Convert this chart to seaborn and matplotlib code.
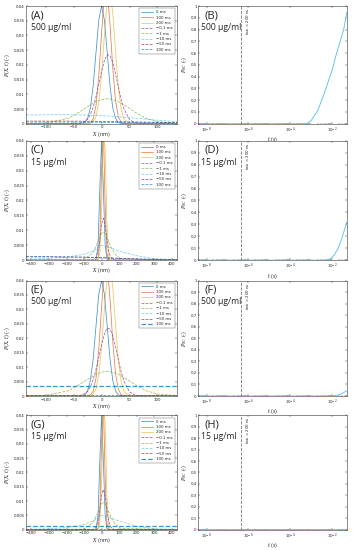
import numpy as np
import pandas as pd
import matplotlib
matplotlib.use("Agg")
import matplotlib.pyplot as plt
import seaborn as sns

# -----------------------------
# Data
# -----------------------------
LEGEND_LABELS = ["0 ms", "100 ms", "200 ms", "\u22120.1 ms", "\u22121 ms", "\u221210 ms", "\u221250 ms", "100 ms"]
PANEL_LETTERS = ["(A)", "(B)", "(C)", "(D)", "(E)", "(F)", "(G)", "(H)"]
CONC = ["500 \u00b5g/ml", "15 \u00b5g/ml", "500 \u00b5g/ml", "15 \u00b5g/ml"]

# panels A / E  (X in nm)
AE_X = [-135, -100, -60, -40, -30, -25, -20, -15, -10, -5, 0, 5, 10, 15, 20, 25, 30, 35, 40, 50, 60, 80, 100, 135]
AE_0MS = [0, 0, 0, 0, .0004, .0018, .0054, .0130, .0243, .0353, .0400, .0353, .0243, .0130, .0054, .0018, .0004, .0001, 0, 0, 0, 0, 0, 0]
AE_100MS = [0, 0, 0, 0, 0, .0001, .0004, .0017, .0062, .0163, .031, .0435, .0452, .034, .0189, .0077, .0023, .0005, .0001, 0, 0, 0, 0, 0]
AE_200MS = [0, 0, 0, 0, 0, 0, .0001, .0007, .0025, .0074, .0169, .030, .0415, .0448, .0376, .0246, .0125, .005, .0015, .0001, 0, 0, 0, 0]
AE_M01MS = [0, 0, 0, .0001, .0008, .0016, .0032, .0057, .0092, .0134, .0178, .0215, .0235, .0232, .0208, .017, .0125, .0084, .0051, .0014, .0003, 0, 0, 0]
AE_M1MS = [.0001, .0002, .0018, .0039, .0052, .0058, .0064, .007, .0075, .0079, .0082, .0084, .0085, .0084, .0082, .0079, .0075, .007, .0064, .0052, .0039, .0018, .0007, .0001]
AE_WIDE_X = [-135, -60, 0, 60, 100, 135]
A_M10MS = [.0030, .0031, .0028, .0019, .0012, .0007]
A_M50MS = [.0009, .0009, .0008, .0006, .0005, .0004]
A_M100MS = [.0006, .0006, .0005, .0004, .0004, .0003]
E_M10MS = [.0001, .0001, .0001, .0001, .0001, .0001]
E_M50MS = [.0002, .0002, .0002, .0002, .0002, .0002]
E_M100MS = [.0035, .0035, .0035, .0035, .0035, .0035]

# panels C / G  (X in nm)
CG_X = [-430, -100, -50, -40, -30, -20, -10, 0, 10, 20, 30, 40, 50, 60, 80, 110, 430]
CG_0MS = [0, 0, 0, 0, .0004, .0054, .0243, .0400, .0243, .0054, .0004, 0, 0, 0, 0, 0, 0]
CG_100MS = [0, 0, 0, 0, 0, .0004, .0062, .031, .0452, .0189, .0023, .0001, 0, 0, 0, 0, 0]
CG_200MS = [0, 0, 0, 0, 0, .0001, .0025, .0169, .0415, .0376, .0125, .0015, .0001, 0, 0, 0, 0]
CG_M01MS = [0, 0, .0001, .0004, .0012, .0032, .0070, .0120, .0140, .0120, .0070, .0032, .0012, .0004, 0, 0, 0]
CG_M1MS = [0, .0002, .0025, .0036, .0049, .0063, .0078, .0090, .0095, .0090, .0078, .0063, .0049, .0036, .0018, .0004, 0]
CG_WIDE_X = [-430, -300, -200, -100, -50, 0, 50, 100, 200, 300, 430]
C_M10MS = [.0003, .0006, .0010, .0020, .0030, .0050, .0042, .0030, .0015, .0005, .0001]
C_M50MS = [.0011, .0011, .0010, .0010, .0009, .0008, .0007, .0006, .0004, .0002, .0001]
C_M100MS = [.0013, .0012, .0011, .0010, .0009, .0008, .0007, .0006, .0004, .0003, .0002]
G_M10MS = [.0001, .0003, .0007, .0018, .0030, .0050, .0042, .0030, .0012, .0003, .0001]
G_M50MS = [.0003, .0003, .0003, .0003, .0003, .0003, .0003, .0003, .0003, .0003, .0003]
G_M100MS = [.0012, .0012, .0012, .0012, .0012, .0012, .0012, .0012, .0012, .0012, .0012]

# right panels: probability vs time (s)
B_T = [4e-9, 6e-4, 1e-3, 2e-3, 4e-3, 7e-3, 1e-2, 1.5e-2, 2.2e-2, 3.5e-2, 5e-2]
B_PSC = [0, 0, .03, .11, .25, .38, .46, .58, .68, .80, .95]
D_T = [4e-9, 5e-3, 8e-3, 1.2e-2, 1.8e-2, 2.6e-2, 3.6e-2, 5e-2]
D_PSC = [0, 0, .01, .04, .09, .16, .24, .32]
F_T = [4e-9, 8e-3, 1.5e-2, 2.5e-2, 3.5e-2, 5e-2]
F_PSC = [0, 0, .005, .015, .03, .045]
H_T = [4e-9, 5e-2]
H_PSC = [0, .001]
T_MIN = 4.5e-7

# MATLAB default line colours
COLORS = ["#0072BD", "#D95319", "#EDB120", "#7E2F8E", "#77AC30", "#4DBEEE", "#A2142F", "#0072BD"]
STYLES = ["-", "-", "-", "--", "--", "--", "--", "--"]

# -----------------------------
# Style
# -----------------------------
sns.set_style("ticks")
plt.rcParams["font.family"] = ["DejaVu Sans"]
plt.rcParams["mathtext.fontset"] = "dejavuserif"
plt.rcParams["axes.linewidth"] = 0.4
plt.rcParams["xtick.direction"] = "in"
plt.rcParams["ytick.direction"] = "in"
plt.rcParams["xtick.major.size"] = 1.5
plt.rcParams["ytick.major.size"] = 1.5
plt.rcParams["xtick.minor.size"] = 0.8
plt.rcParams["xtick.major.width"] = 0.3
plt.rcParams["ytick.major.width"] = 0.3
plt.rcParams["xtick.minor.width"] = 0.3
plt.rcParams["xtick.labelsize"] = 2.8
plt.rcParams["ytick.labelsize"] = 2.8
plt.rcParams["axes.edgecolor"] = "#333333"

fig = plt.figure(figsize=(3.54, 5.5), dpi=100)

rows = [(0.775, 0.214), (0.527, 0.217), (0.280, 0.210), (0.037, 0.208)]
left_x, left_w = 0.074, 0.426
right_x, right_w = 0.560, 0.420

left_sets = [
    (AE_X, AE_WIDE_X, [AE_0MS, AE_100MS, AE_200MS, AE_M01MS, AE_M1MS], [A_M10MS, A_M50MS, A_M100MS], 135,
     [-100, -50, 0, 50, 100]),
    (CG_X, CG_WIDE_X, [CG_0MS, CG_100MS, CG_200MS, CG_M01MS, CG_M1MS], [C_M10MS, C_M50MS, C_M100MS], 430,
     [-400, -300, -200, -100, 0, 100, 200, 300, 400]),
    (AE_X, AE_WIDE_X, [AE_0MS, AE_100MS, AE_200MS, AE_M01MS, AE_M1MS], [E_M10MS, E_M50MS, E_M100MS], 135,
     [-100, -50, 0, 50, 100]),
    (CG_X, CG_WIDE_X, [CG_0MS, CG_100MS, CG_200MS, CG_M01MS, CG_M1MS], [G_M10MS, G_M50MS, G_M100MS], 430,
     [-400, -300, -200, -100, 0, 100, 200, 300, 400]),
]
right_sets = [(B_T, B_PSC), (D_T, D_PSC), (F_T, F_PSC), (H_T, H_PSC)]

ytick_vals = [0, 0.005, 0.01, 0.015, 0.02, 0.025, 0.03, 0.035, 0.04]
ytick_labs = ["0", "0.005", "0.01", "0.015", "0.02", "0.025", "0.03", "0.035", "0.04"]


def tidy(ax):
    ax.tick_params(top=True, right=True, pad=1.2)
    for s in ax.spines.values():
        s.set_visible(True)


for i, (y0, h) in enumerate(rows):
    # ---- left panel: distributions ----
    xs, xw, narrow, wide, lim, xt = left_sets[i]
    ax = fig.add_axes([left_x, y0, left_w, h])
    ys = narrow + wide
    for k, yv in enumerate(ys):
        xv = xs if k < 5 else xw
        df = pd.DataFrame({"x": xv, "y": yv})
        lw = 0.9 if (k == 7 and i in (2, 3)) else 0.55
        sns.lineplot(data=df, x="x", y="y", ax=ax, color=COLORS[k], linestyle=STYLES[k],
                     linewidth=lw, label=LEGEND_LABELS[k], sort=False, estimator=None, alpha=0.75)
    ax.set_xlim(-lim, lim)
    ax.set_ylim(0, 0.04)
    ax.set_xticks(xt)
    ax.set_yticks(ytick_vals)
    ax.set_yticklabels(ytick_labs)
    ax.set_xlabel(r"$X$ (nm)", fontsize=3.5, labelpad=0.3)
    ax.set_ylabel(r"$P(X,t)$ (-)", fontsize=3.5, labelpad=0.8)
    tidy(ax)
    leg = ax.legend(loc="upper right", fontsize=2.8, handlelength=3.2, labelspacing=0.35,
                    borderaxespad=0.6, frameon=True, fancybox=False, borderpad=0.5)
    leg.get_frame().set_edgecolor("#333333")
    leg.get_frame().set_linewidth(0.3)
    ax.text(0.03, 0.965, PANEL_LETTERS[2 * i], transform=ax.transAxes, fontsize=8,
            family="Open Sans", va="top", ha="left")
    ax.text(0.03, 0.815, CONC[i], transform=ax.transAxes, fontsize=6.2,
            family="Open Sans", va="center", ha="left")

    # ---- right panel: probability vs time ----
    tv, pv = right_sets[i]
    ax2 = fig.add_axes([right_x, y0, right_w, h])
    df2 = pd.DataFrame({"t": tv, "p": pv})
    sns.lineplot(data=df2, x="t", y="p", ax=ax2, color="#4DBEEE", linewidth=0.6,
                 sort=False, estimator=None)
    ax2.set_xscale("log")
    ax2.set_xlim(4e-9, 5e-2)
    ax2.set_ylim(0, 1)
    ax2.set_xticks([1e-8, 1e-6, 1e-4, 1e-2])
    ax2.set_yticks(np.arange(0, 1.01, 0.1))
    ax2.set_yticklabels(["0", "0.1", "0.2", "0.3", "0.4", "0.5", "0.6", "0.7", "0.8", "0.9", "1"])
    ax2.axvline(T_MIN, color="#777777", linestyle="--", linewidth=0.6)
    ax2.text(T_MIN * 1.35, 0.985, r"$t_{\min}$ = 200 ns", rotation=90, fontsize=2.8,
             va="top", ha="left")
    ax2.set_xlabel(r"$t$ (s)", fontsize=3.5, labelpad=0.3)
    ax2.set_ylabel(r"$P_{SC}$ (-)", fontsize=3.5, labelpad=0.8)
    tidy(ax2)
    ax2.text(0.04, 0.965, PANEL_LETTERS[2 * i + 1], transform=ax2.transAxes, fontsize=8,
             family="Open Sans", va="top", ha="left")
    ax2.text(0.02, 0.815, CONC[i], transform=ax2.transAxes, fontsize=6.2,
             family="Open Sans", va="center", ha="left")

fig.savefig("out.png", dpi=100)
